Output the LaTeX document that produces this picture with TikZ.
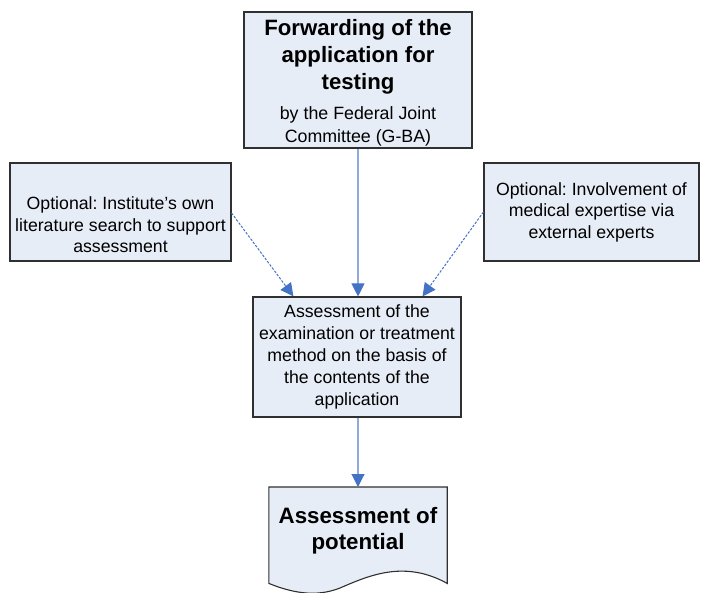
\documentclass[tikz,border=0pt]{standalone}
\usepackage{fontspec}
\setmainfont{Liberation Sans}
\frenchspacing
\usetikzlibrary{arrows.meta,calc}
\definecolor{boxfill}{HTML}{E7EDF7}
\definecolor{boxline}{HTML}{303030}
\definecolor{linkline}{HTML}{8FAADC}
\definecolor{tipblue}{HTML}{4472C4}
\tikzset{
  box/.style={draw=boxline, line width=1.1pt, fill=boxfill, rectangle, inner sep=0pt, align=center},
  normtxt/.style={font=\fontsize{17.7}{21.5}\selectfont},
  solidlink/.style={draw=linkline, line width=1.1pt, -{Triangle[length=13pt,width=13pt,color=tipblue]}},
  optlink/.style={draw=tipblue, line width=1pt, dash pattern=on 2.5pt off 1.5pt, -{Triangle[length=13pt,width=13pt,color=tipblue,fill=tipblue]}}
}
\begin{document}
\begin{tikzpicture}[x=1pt,y=-1pt]
\useasboundingbox (0,0) rectangle (701,593);
\node[box, minimum width=228pt, minimum height=136pt] (top) at (358,80) {};
\node[align=center, font=\fontsize{22.2}{27}\selectfont] (toptxt) at (358,83)
 {\textbf{Forwarding of the}\\ \textbf{application for}\\ \textbf{testing}\\[2.5pt]
  {\fontsize{17.8}{23}\selectfont by the Federal Joint}\\[-4pt]
  {\fontsize{17.8}{23}\selectfont Committee (G-BA)}};
\node[box, minimum width=221pt, minimum height=98pt] (left) at (120.5,212) {};
\node[normtxt, align=center] (lefttxt) at (120.5,225)
 {Optional: Institute’s own\\ literature search to support\\ assessment};
\node[box, normtxt, minimum width=215pt, minimum height=98pt] (right) at (591.5,212)
 {Optional: Involvement of\\ medical expertise via\\ external experts};
\node[box, font=\fontsize{17.7}{22.2}\selectfont, minimum width=208pt, minimum height=120pt] (mid) at (357,357)
 {Assessment of the\\ examination or treatment\\ method on the basis of\\ the contents of the\\ application};
% document shape
\node[inner sep=0pt, minimum width=178pt, minimum height=96pt, anchor=north] (doc) at (358,487) {};
\draw[draw=boxline, line width=1.1pt, fill=boxfill]
  (doc.north west) -- (doc.north east) -- (doc.south east)
  .. controls (405,560) and (370,575) .. (340,588)
  .. controls (315,598) and (290,592) .. (doc.south west) -- cycle;
\node[align=center, font=\bfseries\fontsize{22.3}{26}\selectfont] (doctxt) at (358,531) {Assessment of\\ potential};
% connectors
\draw[solidlink] (top.south) -- (mid.north -| top.south);
\draw[solidlink] (mid.south -| top.south) -- (doc.north);
\coordinate (lend) at ($(mid.north west)+(41,0)$);
\coordinate (rend) at ($(mid.north east)+(-39,0)$);
\draw[optlink] ($(left.east)+(0,1)$) -- (lend);
\draw[optlink] (right.west) -- (rend);
\end{tikzpicture}
\end{document}
